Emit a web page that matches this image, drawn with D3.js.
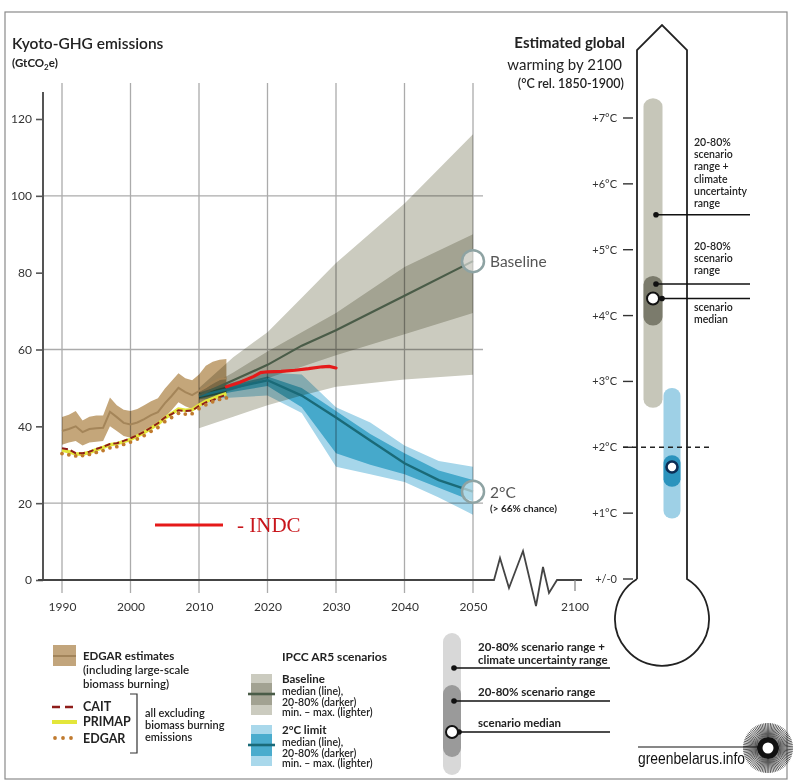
<!DOCTYPE html>
<html>
<head>
<meta charset="utf-8">
<script src="https://cdn.jsdelivr.net/npm/d3@7"></script>
<style>
  body { margin: 0; background: #fff; }
  svg text { font-family: Lato, "Open Sans", sans-serif; }
  .band { mix-blend-mode: multiply; }
</style>
</head>
<body>
<div id="chart"></div>
<script>
// ---- data ----
var edgarYears = d3.range(1990, 2015);
var edgarMed = [38.8, 39.3, 40.0, 38.5, 39.3, 39.5, 39.6, 43.8, 42.4, 40.9, 40.5, 41.0, 41.9, 42.9, 43.7, 46.0, 47.9, 50.0, 48.9, 48.1, 49.2, 50.2, 51.5, 52.3, 52.5];
var edgarHi  = [42.4, 43.0, 44.0, 41.5, 42.5, 42.8, 42.8, 47.5, 45.5, 44.3, 44.0, 44.5, 45.5, 46.5, 47.3, 49.8, 51.8, 53.8, 52.5, 52.0, 53.5, 55.8, 56.8, 57.3, 57.5];
var edgarLo  = [35.2, 35.8, 36.2, 35.0, 35.8, 36.0, 36.2, 40.0, 38.8, 37.5, 37.0, 37.5, 38.3, 39.3, 40.2, 42.3, 44.2, 46.3, 45.2, 44.5, 45.2, 46.3, 47.3, 47.8, 48.0];
var cait     = [34.3, 34.0, 33.0, 33.0, 33.4, 34.1, 34.7, 35.4, 35.6, 36.2, 36.9, 37.7, 38.6, 39.7, 40.8, 42.3, 43.2, 44.2, 44.0, 44.1, 45.3, 46.2, 46.8, 47.6, 48.2];
var primap   = [33.8, 33.4, 32.8, 32.8, 33.2, 33.9, 34.5, 35.2, 35.5, 36.0, 36.6, 37.5, 38.4, 39.5, 40.6, 42.1, 43.3, 44.5, 44.2, 44.3, 45.5, 46.5, 47.2, 47.9, 48.5];
var edgarEx  = [32.9, 32.6, 32.3, 32.4, 32.7, 33.2, 33.7, 34.4, 34.7, 35.3, 35.9, 36.7, 37.6, 38.7, 39.7, 41.2, 42.3, 43.4, 43.2, 43.3, 44.6, 45.6, 46.4, 47.0, 47.4];

var baseYears = [2010, 2015, 2020, 2025, 2030, 2040, 2050];
var baseMed   = [48, 52, 56, 61, 65, 74, 83];
var baseLo20  = [47, 49.5, 52.5, 55.5, 58.5, 64, 69.5];
var baseHi80  = [49, 54, 59.5, 64.5, 69.5, 81.5, 90];
var baseMin   = [39.5, 42.5, 45.5, 48, 50.3, 52.2, 53.4];
var baseMax   = [50, 58, 64.5, 73.5, 82.5, 98, 116];

var twoYears = [2010, 2015, 2020, 2025, 2030, 2035, 2040, 2045, 2050];
var twoMed   = [47.9, 50, 52, 48, 42.3, 36.3, 30.4, 26, 23];
var twoLo20  = [47.3, 49, 50.5, 45, 33, 30, 27.5, 24, 20.5];
var twoHi80  = [48.5, 50.8, 53, 50, 44, 38, 33, 28.5, 26];
var twoMin   = [47, 47.5, 48, 43.5, 29.5, 27.5, 25.5, 21.5, 17];
var twoMax   = [48.8, 51.5, 54, 53.5, 45, 41, 35, 31, 29.5];

var indcYears = [2014, 2016, 2018, 2019, 2020, 2022, 2024, 2026, 2028, 2029, 2030];
var indc      = [50.3, 51.5, 53, 54, 54.2, 54.3, 54.6, 55, 55.5, 55.6, 55.2];

var yTicks = [0, 20, 40, 60, 80, 100, 120];
var yGrid = [20, 60, 100];
var xTicks = [1990, 2000, 2010, 2020, 2030, 2040, 2050];

var tempTicks = [0, 1, 2, 3, 4, 5, 6, 7];
var baseTempRange = [2.6, 7.3];
var baseTemp2080 = [3.85, 4.6];
var baseTempMed = 4.26;
var twoTempRange = [0.92, 2.9];
var twoTemp2080 = [1.4, 1.88];
var twoTempMed = 1.7;

// ---- setup ----
var W = 800, H = 784;
var svg = d3.select("#chart").append("svg").attr("width", W).attr("height", H);

svg.append("rect").attr("x", 5).attr("y", 12).attr("width", 782).attr("height", 767)
  .attr("fill", "none").attr("stroke", "#8a8a8a").attr("stroke-width", 1.2);

var x = d3.scaleLinear().domain([1990, 2050]).range([62, 473]);
var y = d3.scaleLinear().domain([0, 120]).range([580, 119]);

// grid
svg.append("g").selectAll("line").data(xTicks).enter().append("line")
  .attr("x1", d => x(d)).attr("x2", d => x(d)).attr("y1", 83).attr("y2", 593)
  .attr("stroke", "#ababab").attr("stroke-width", 1.3);
svg.append("g").selectAll("line").data(yGrid).enter().append("line")
  .attr("x1", 43).attr("x2", x(2050) + 10).attr("y1", d => y(d)).attr("y2", d => y(d))
  .attr("stroke", "#ababab").attr("stroke-width", 1.3);

function band(years, lo, hi) {
  return d3.area().x((d, i) => x(years[i])).y0((d, i) => y(lo[i])).y1((d, i) => y(hi[i]))(years);
}
function line(years, vals) {
  return d3.line().x((d, i) => x(years[i])).y((d, i) => y(vals[i]))(years);
}

// 2°C bands
svg.append("path").attr("class", "band").attr("d", band(twoYears, twoMin, twoMax)).attr("fill", "#a6d6ea");
svg.append("path").attr("class", "band").attr("d", band(twoYears, twoLo20, twoHi80)).attr("fill", "#6bc9de");
// baseline bands
svg.append("path").attr("class", "band").attr("d", band(baseYears, baseMin, baseMax)).attr("fill", "#cbcbbf");
svg.append("path").attr("class", "band").attr("d", band(baseYears, baseLo20, baseHi80)).attr("fill", "#cdcdc3");
// EDGAR band
svg.append("path").attr("class", "band").attr("d", band(edgarYears, edgarLo, edgarHi)).attr("fill", "#c4a67a");
svg.append("path").attr("d", line(edgarYears, edgarMed)).attr("fill", "none")
  .attr("stroke", "#a48559").attr("stroke-width", 2);

// medians
svg.append("path").attr("d", line(twoYears, twoMed)).attr("fill", "none")
  .attr("stroke", "#1a6a78").attr("stroke-width", 2.4);
svg.append("path").attr("d", line(baseYears, baseMed)).attr("fill", "none")
  .attr("stroke", "#4a5c48").attr("stroke-width", 2.2);

// national inventories
svg.append("path").attr("d", line(edgarYears, primap)).attr("fill", "none")
  .attr("stroke", "#e3e63a").attr("stroke-width", 3.5);
svg.append("path").attr("d", line(edgarYears, cait)).attr("fill", "none")
  .attr("stroke", "#8e1c1a").attr("stroke-width", 2).attr("stroke-dasharray", "6,3");
svg.append("g").selectAll("circle").data(edgarEx).enter().append("circle")
  .attr("cx", (d, i) => x(edgarYears[i])).attr("cy", d => y(d)).attr("r", 1.9)
  .attr("fill", "#c07a2e");

// INDC
svg.append("path").attr("d", line(indcYears, indc)).attr("fill", "none")
  .attr("stroke", "#e51a1a").attr("stroke-width", 3.2).attr("stroke-linecap", "round");

// end circles
[[baseMed[baseMed.length - 1], "Baseline"], [twoMed[twoMed.length - 1], "2°C"]].forEach(function (p) {
  svg.append("circle").attr("cx", x(2050)).attr("cy", y(p[0])).attr("r", 11)
    .attr("fill", "rgba(255,255,255,0.55)").attr("stroke", "#8ea3a3").attr("stroke-width", 2.5);
  svg.append("text").attr("x", x(2050) + 17).attr("y", y(p[0]) + 6)
    .attr("font-size", 15.5).attr("fill", "#555").text(p[1]);
});
svg.append("text").attr("x", x(2050) + 17).attr("y", y(twoMed[twoMed.length - 1]) + 20)
  .attr("font-size", 10).attr("font-weight", "bold").attr("fill", "#222").text("(> 66% chance)");

// axes
var yAxis = svg.append("g").attr("transform", "translate(43,0)")
  .call(d3.axisLeft(y).tickValues(yTicks).tickSize(7).tickPadding(4));
yAxis.select(".domain").remove();
yAxis.selectAll("line").attr("stroke", "#555").attr("stroke-width", 1.6);
yAxis.selectAll("text").attr("font-size", 12).attr("fill", "#333").attr("font-family", "Lato, sans-serif");
svg.append("line").attr("x1", 43).attr("x2", 43).attr("y1", 92).attr("y2", y(0) + 1)
  .attr("stroke", "#555").attr("stroke-width", 2);

var xAxis = svg.append("g").attr("transform", "translate(0," + y(0) + ")")
  .call(d3.axisBottom(x).tickValues(xTicks).tickFormat(d3.format("d")).tickSize(0).tickPadding(22));
xAxis.select(".domain").remove();
xAxis.selectAll("text").attr("font-size", 12).attr("fill", "#333").attr("font-family", "Lato, sans-serif");

// baseline with break to 2100
var x50 = x(2050), y0 = y(0), x2100 = x50 + 102;
svg.append("path").attr("fill", "none").attr("stroke", "#444").attr("stroke-width", 1.8)
  .attr("d", "M38," + y0 + " L" + (x50 + 21) + "," + y0 +
    " L" + (x50 + 27) + "," + (y0 - 22) + " L" + (x50 + 36) + "," + (y0 + 8) +
    " L" + (x50 + 50) + "," + (y0 - 29) + " L" + (x50 + 63) + "," + (y0 + 26) +
    " L" + (x50 + 70) + "," + (y0 - 13) + " L" + (x50 + 76) + "," + (y0 + 13) +
    " L" + (x50 + 84) + "," + y0 + " L" + (x2100 + 7) + "," + y0);
svg.append("line").attr("x1", x2100).attr("x2", x2100).attr("y1", y0).attr("y2", y0 + 11)
  .attr("stroke", "#888").attr("stroke-width", 1.3);
svg.append("text").attr("x", x2100).attr("y", y0 + 31).attr("text-anchor", "middle")
  .attr("font-size", 12).attr("fill", "#333").text("2100");

// titles
svg.append("text").attr("x", 12).attr("y", 49).attr("font-size", 15.5).attr("fill", "#222")
  .attr("font-weight", 600).text("Kyoto-GHG emissions");
var unit = svg.append("text").attr("x", 12).attr("y", 67).attr("font-size", 11.5)
  .attr("font-weight", "bold").attr("fill", "#222");
unit.append("tspan").text("(GtCO");
unit.append("tspan").attr("font-size", 8).attr("dy", 3).text("2");
unit.append("tspan").attr("dy", -3).text("e)");

// INDC legend
svg.append("line").attr("x1", 155).attr("x2", 223).attr("y1", 525).attr("y2", 525)
  .attr("stroke", "#e51a1a").attr("stroke-width", 3.2);
svg.append("text").attr("x", 237).attr("y", 532).attr("font-size", 21)
  .attr("fill", "#c8161c")
  .style("font-family", "'Liberation Serif', 'DejaVu Serif', serif").text("- INDC");

// ---- thermometer ----
var t = d3.scaleLinear().domain([0, 7]).range([579, 118]);
var tc = 662, tl = 637, tr = 687;
svg.append("path").attr("fill", "none").attr("stroke", "#222").attr("stroke-width", 1.8)
  .attr("d", "M" + tl + "," + t(0) + " L" + tl + ",50 L" + tc + ",25 L" + tr + ",50 L" + tr + "," + t(0) +
    " A47,47 0 1 1 " + tl + "," + t(0));

var hdr = svg.append("g").attr("text-anchor", "end").attr("fill", "#222");
hdr.append("text").attr("x", 625).attr("y", 48).attr("font-size", 15).attr("font-weight", "bold").text("Estimated global");
hdr.append("text").attr("x", 622).attr("y", 70).attr("font-size", 15).text("warming by 2100");
hdr.append("text").attr("x", 624).attr("y", 88).attr("font-size", 12.5).attr("font-weight", 600).text("(°C rel. 1850-1900)");

var tg = svg.append("g");
tg.selectAll("line").data(tempTicks).enter().append("line")
  .attr("x1", 623).attr("x2", 633).attr("y1", d => t(d)).attr("y2", d => t(d))
  .attr("stroke", "#333").attr("stroke-width", 1.4);
tg.selectAll("text").data(tempTicks).enter().append("text")
  .attr("x", 617).attr("y", d => t(d) + 4).attr("text-anchor", "end")
  .attr("font-size", 11).attr("fill", "#333")
  .text(d => d === 0 ? "+/-0" : "+" + d + "°C");

function bar(cx, w, range, color) {
  svg.append("rect").attr("x", cx - w / 2).attr("width", w)
    .attr("y", t(range[1])).attr("height", t(range[0]) - t(range[1]))
    .attr("rx", w / 2).attr("ry", w / 2 * 0.9).attr("fill", color);
}
var gx = 653, bx = 672;
bar(gx, 19, baseTempRange, "#c6c6b9");
bar(gx, 19, baseTemp2080, "#7b7b6c");
bar(bx, 17, twoTempRange, "#9ed0e6");
bar(bx, 17, twoTemp2080, "#2b93bd");

svg.append("line").attr("x1", 623).attr("x2", 710).attr("y1", t(2)).attr("y2", t(2))
  .attr("stroke", "#222").attr("stroke-width", 1.4).attr("stroke-dasharray", "5,4");

svg.append("circle").attr("cx", bx).attr("cy", t(twoTempMed)).attr("r", 5.5)
  .attr("fill", "#fff").attr("stroke", "#0b2d55").attr("stroke-width", 2.6);

// annotations
var ann = [
  { v: 5.53, lines: ["20-80%", "scenario", "range +", "climate", "uncertainty", "range"], y0: 146 },
  { v: 4.48, lines: ["20-80%", "scenario", "range"], y0: 250 },
  { v: baseTempMed, lines: ["scenario", "median"], y0: 311 }
];
ann.forEach(function (a, k) {
  svg.append("line").attr("x1", gx + 3).attr("x2", 750).attr("y1", t(a.v)).attr("y2", t(a.v))
    .attr("stroke", "#111").attr("stroke-width", 1.4);
  svg.append("circle").attr("cx", k === 2 ? gx + 9 : gx + 3).attr("cy", t(a.v)).attr("r", 2.8).attr("fill", "#111");
  var tx = svg.append("text").attr("x", 694).attr("font-size", 10.5).attr("font-weight", 600).attr("fill", "#222");
  a.lines.forEach(function (s, i) {
    tx.append("tspan").attr("x", 694).attr("y", a.y0 + i * 12.2).text(s);
  });
});
svg.append("circle").attr("cx", gx).attr("cy", t(baseTempMed)).attr("r", 6)
  .attr("fill", "#fff").attr("stroke", "#111").attr("stroke-width", 2);

// ---- legends ----
var lg = svg.append("g");
lg.append("rect").attr("x", 53).attr("y", 645).attr("width", 23).attr("height", 21).attr("fill", "#c2a57c");
lg.append("line").attr("x1", 53).attr("x2", 76).attr("y1", 656).attr("y2", 656).attr("stroke", "#977a4f").attr("stroke-width", 1.5);
lg.append("text").attr("x", 83).attr("y", 660).attr("font-size", 11.5).attr("font-weight", "bold").attr("fill", "#222").text("EDGAR estimates");
lg.append("text").attr("x", 83).attr("y", 674).attr("font-size", 11.5).attr("font-weight", 600).attr("fill", "#222").text("(including large-scale");
lg.append("text").attr("x", 83).attr("y", 687.5).attr("font-size", 11.5).attr("font-weight", 600).attr("fill", "#222").text("biomass burning)");

lg.append("line").attr("x1", 52).attr("x2", 77).attr("y1", 707).attr("y2", 707).attr("stroke", "#8e1c1a").attr("stroke-width", 2.4).attr("stroke-dasharray", "8,5");
lg.append("line").attr("x1", 52).attr("x2", 77).attr("y1", 722).attr("y2", 722).attr("stroke", "#e3e63a").attr("stroke-width", 4);
[55, 63, 71].forEach(function (cx) {
  lg.append("circle").attr("cx", cx).attr("cy", 738).attr("r", 1.9).attr("fill", "#c07a2e");
});
[["CAIT", 711], ["PRIMAP", 726], ["EDGAR", 743]].forEach(function (p) {
  lg.append("text").attr("x", 83).attr("y", p[1]).attr("font-size", 12.5).attr("font-weight", "bold").attr("fill", "#222").text(p[0]);
});
lg.append("path").attr("d", "M130,694 H137 V753 H130").attr("fill", "none").attr("stroke", "#333").attr("stroke-width", 1.2);
[["all excluding", 717], ["biomass burning", 729], ["emissions", 741]].forEach(function (p) {
  lg.append("text").attr("x", 145).attr("y", p[1]).attr("font-size", 11).attr("font-weight", 600).attr("fill", "#222").text(p[0]);
});

lg.append("text").attr("x", 282).attr("y", 661).attr("font-size", 12).attr("font-weight", "bold").attr("fill", "#222").text("IPCC AR5 scenarios");
function scenBox(top, light, dark, med, title) {
  lg.append("rect").attr("x", 251).attr("y", top).attr("width", 21).attr("height", 41).attr("fill", light);
  lg.append("rect").attr("x", 251).attr("y", top + 9).attr("width", 21).attr("height", 22).attr("fill", dark);
  lg.append("line").attr("x1", 248).attr("x2", 275).attr("y1", top + 20).attr("y2", top + 20).attr("stroke", med).attr("stroke-width", 2.6);
  lg.append("text").attr("x", 282).attr("y", top + 9).attr("font-size", 11.5).attr("font-weight", "bold").attr("fill", "#222").text(title);
  ["median (line),", "20-80% (darker)", "min. – max. (lighter)"].forEach(function (s, i) {
    lg.append("text").attr("x", 282).attr("y", top + 21 + i * 10.5).attr("font-size", 10.5).attr("font-weight", 600).attr("fill", "#222").text(s);
  });
}
scenBox(674, "#cbcbbf", "#a2a292", "#4a5c48", "Baseline");
scenBox(725, "#a9d8eb", "#4aaccd", "#1a6a78", "2°C limit");

// right legend
lg.append("rect").attr("x", 443).attr("y", 633).attr("width", 18).attr("height", 142).attr("rx", 9).attr("fill", "#d8d8d8");
lg.append("rect").attr("x", 443).attr("y", 685).attr("width", 18).attr("height", 72).attr("rx", 9).attr("fill", "#9a9a9a");
[[668, "20-80% scenario range +", "climate uncertainty range"], [701, "20-80% scenario range"], [732, "scenario median"]].forEach(function (p, k) {
  lg.append("line").attr("x1", 454).attr("x2", 610).attr("y1", p[0]).attr("y2", p[0]).attr("stroke", "#111").attr("stroke-width", 1.4);
  lg.append("circle").attr("cx", k === 2 ? 459 : 454).attr("cy", p[0]).attr("r", 2.8).attr("fill", "#111");
  if (k === 0) {
    lg.append("text").attr("x", 478).attr("y", 651).attr("font-size", 11.5).attr("font-weight", "bold").attr("fill", "#222").text(p[1]);
    lg.append("text").attr("x", 478).attr("y", 664).attr("font-size", 11.5).attr("font-weight", "bold").attr("fill", "#222").text(p[2]);
  } else {
    lg.append("text").attr("x", 478).attr("y", p[0] - 5).attr("font-size", 11.5).attr("font-weight", "bold").attr("fill", "#222").text(p[1]);
  }
});
lg.append("circle").attr("cx", 452).attr("cy", 732).attr("r", 6).attr("fill", "#fff").attr("stroke", "#111").attr("stroke-width", 2);

// logo
var lx = 768, ly = 748;
lg.append("line").attr("x1", 638).attr("x2", lx).attr("y1", 747).attr("y2", 747).attr("stroke", "#111").attr("stroke-width", 1.2);
lg.append("g").selectAll("line").data(d3.range(0, 360, 4)).enter().append("line")
  .attr("x1", d => lx + 11 * Math.cos(d * Math.PI / 180)).attr("y1", d => ly + 11 * Math.sin(d * Math.PI / 180))
  .attr("x2", d => lx + 25 * Math.cos(d * Math.PI / 180)).attr("y2", d => ly + 25 * Math.sin(d * Math.PI / 180))
  .attr("stroke", "#111").attr("stroke-width", 0.7);
lg.append("circle").attr("cx", lx).attr("cy", ly).attr("r", 11).attr("fill", "#111");
lg.append("circle").attr("cx", lx).attr("cy", ly).attr("r", 5.5).attr("fill", "#fff");
lg.append("text").attr("x", 638).attr("y", 764).attr("font-size", 16)
  .attr("textLength", 107).attr("lengthAdjust", "spacingAndGlyphs")
  .style("font-family", "'Liberation Sans Narrow', 'Liberation Sans', Arial, sans-serif")
  .attr("fill", "#111").text("greenbelarus.info");
</script>
</body>
</html>
